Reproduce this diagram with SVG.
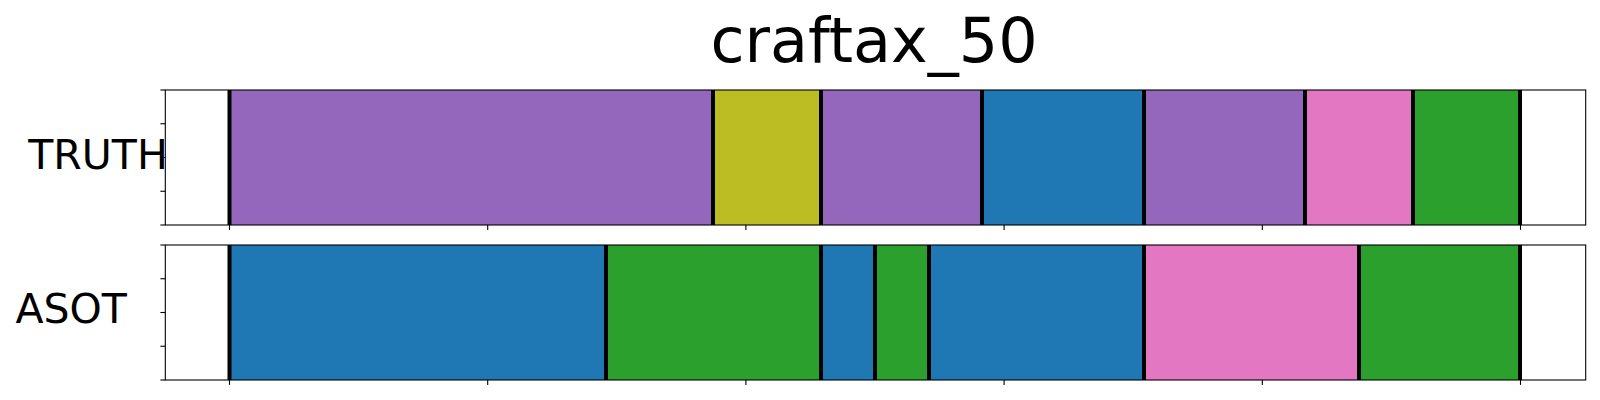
<svg xmlns="http://www.w3.org/2000/svg" width="1600" height="400" viewBox="0 0 1600 400">
<style>
text{font-family:"DejaVu Sans","Liberation Sans",sans-serif;fill:#000}
.spine{fill:none;stroke:#000;stroke-width:1.1}
.tick{stroke:#000;stroke-width:1.1}
.b{stroke:#000;stroke-width:4}
.pu{fill:#9467bd}.ol{fill:#bcbd22}.bl{fill:#1f77b4}.pk{fill:#e377c2}.gr{fill:#2ca02c}
</style>
<rect width="1600" height="400" fill="#fff"/>
<text x="874" y="62" font-size="62" text-anchor="middle">craftax_50</text>

<g id="truth">
<rect class="pu" x="229.5" y="90" width="483.5" height="135"/>
<rect class="ol" x="713" y="90" width="108" height="135"/>
<rect class="pu" x="821" y="90" width="161" height="135"/>
<rect class="bl" x="982" y="90" width="162" height="135"/>
<rect class="pu" x="1144" y="90" width="161" height="135"/>
<rect class="pk" x="1305" y="90" width="108" height="135"/>
<rect class="gr" x="1413" y="90" width="107" height="135"/>
<g class="b">
<line x1="229.5" y1="90" x2="229.5" y2="225"/>
<line x1="713" y1="90" x2="713" y2="225"/>
<line x1="821" y1="90" x2="821" y2="225"/>
<line x1="982" y1="90" x2="982" y2="225"/>
<line x1="1144" y1="90" x2="1144" y2="225"/>
<line x1="1305" y1="90" x2="1305" y2="225"/>
<line x1="1413" y1="90" x2="1413" y2="225"/>
<line x1="1520" y1="90" x2="1520" y2="225"/>
</g>
<rect class="spine" x="165.3" y="90" width="1420.4" height="135"/>
<g class="tick">
<line x1="160.4" y1="90" x2="165.3" y2="90"/>
<line x1="160.4" y1="123.75" x2="165.3" y2="123.75"/>
<line x1="160.4" y1="157.5" x2="165.3" y2="157.5"/>
<line x1="160.4" y1="191.25" x2="165.3" y2="191.25"/>
<line x1="160.4" y1="225" x2="165.3" y2="225"/>
<line x1="229.5" y1="225" x2="229.5" y2="229.9"/>
<line x1="487.7" y1="225" x2="487.7" y2="229.9"/>
<line x1="745.9" y1="225" x2="745.9" y2="229.9"/>
<line x1="1004.1" y1="225" x2="1004.1" y2="229.9"/>
<line x1="1262.3" y1="225" x2="1262.3" y2="229.9"/>
<line x1="1520.5" y1="225" x2="1520.5" y2="229.9"/>
</g>
<text x="28.3" y="169.3" font-size="41">TRUTH</text>
</g>

<g id="asot">
<rect class="bl" x="229.5" y="245" width="376.5" height="135"/>
<rect class="gr" x="606" y="245" width="215" height="135"/>
<rect class="bl" x="821" y="245" width="54" height="135"/>
<rect class="gr" x="875" y="245" width="54" height="135"/>
<rect class="bl" x="929" y="245" width="215" height="135"/>
<rect class="pk" x="1144" y="245" width="215" height="135"/>
<rect class="gr" x="1359" y="245" width="161" height="135"/>
<g class="b">
<line x1="229.5" y1="245" x2="229.5" y2="380"/>
<line x1="606" y1="245" x2="606" y2="380"/>
<line x1="821" y1="245" x2="821" y2="380"/>
<line x1="875" y1="245" x2="875" y2="380"/>
<line x1="929" y1="245" x2="929" y2="380"/>
<line x1="1144" y1="245" x2="1144" y2="380"/>
<line x1="1359" y1="245" x2="1359" y2="380"/>
<line x1="1520" y1="245" x2="1520" y2="380"/>
</g>
<rect class="spine" x="165.3" y="245" width="1420.4" height="135"/>
<g class="tick">
<line x1="160.4" y1="245" x2="165.3" y2="245"/>
<line x1="160.4" y1="278.75" x2="165.3" y2="278.75"/>
<line x1="160.4" y1="312.5" x2="165.3" y2="312.5"/>
<line x1="160.4" y1="346.25" x2="165.3" y2="346.25"/>
<line x1="160.4" y1="380" x2="165.3" y2="380"/>
<line x1="229.5" y1="380" x2="229.5" y2="384.9"/>
<line x1="487.7" y1="380" x2="487.7" y2="384.9"/>
<line x1="745.9" y1="380" x2="745.9" y2="384.9"/>
<line x1="1004.1" y1="380" x2="1004.1" y2="384.9"/>
<line x1="1262.3" y1="380" x2="1262.3" y2="384.9"/>
<line x1="1520.5" y1="380" x2="1520.5" y2="384.9"/>
</g>
<text x="15.4" y="323.3" font-size="41">ASOT</text>
</g>
</svg>
